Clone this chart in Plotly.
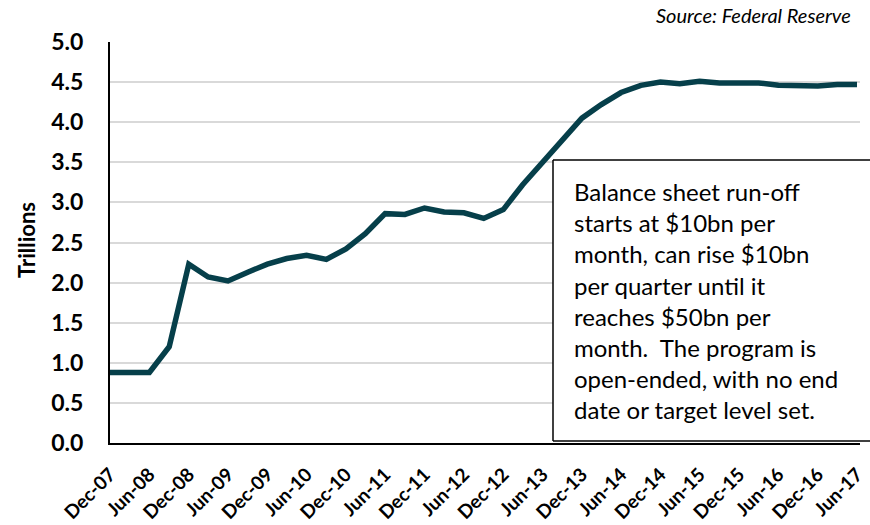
import plotly.graph_objects as go

dates = ["2007-12-01", "2008-03-01", "2008-06-01", "2008-09-01", "2008-12-01",
         "2009-03-01", "2009-06-01", "2009-09-01", "2009-12-01",
         "2010-03-01", "2010-06-01", "2010-09-01", "2010-12-01",
         "2011-03-01", "2011-06-01", "2011-09-01", "2011-12-01",
         "2012-03-01", "2012-06-01", "2012-09-01", "2012-12-01",
         "2013-03-01", "2013-06-01", "2013-09-01", "2013-12-01",
         "2014-03-01", "2014-06-01", "2014-09-01", "2014-12-01",
         "2015-03-01", "2015-06-01", "2015-09-01", "2015-12-01",
         "2016-03-01", "2016-06-01", "2016-09-01", "2016-12-01",
         "2017-03-01", "2017-06-01"]
balance_trillions = [0.88, 0.88, 0.88, 1.20, 2.23,
                     2.07, 2.02, 2.13, 2.23,
                     2.30, 2.34, 2.29, 2.42,
                     2.61, 2.86, 2.85, 2.93,
                     2.88, 2.87, 2.80, 2.91,
                     3.22, 3.50, 3.77, 4.05,
                     4.22, 4.37, 4.46, 4.50,
                     4.48, 4.51, 4.49, 4.49,
                     4.49, 4.46, 4.45, 4.45,
                     4.47, 4.47]
y_ticks = [0.0, 0.5, 1.0, 1.5, 2.0, 2.5, 3.0, 3.5, 4.0, 4.5, 5.0]
y_tick_labels = ["0.0", "0.5", "1.0", "1.5", "2.0", "2.5", "3.0", "3.5", "4.0", "4.5", "5.0"]
note_lines = ["Balance sheet run-off", "starts at $10bn per", "month, can rise $10bn",
              "per quarter until it", "reaches $50bn per", "month.  The program is",
              "open-ended, with no end", "date or target level set."]

FONT = "Lato, 'Open Sans', sans-serif"
LINE_COLOR = "#063f4a"

fig = go.Figure()
fig.add_trace(go.Scatter(
    x=dates, y=balance_trillions, mode="lines",
    line=dict(color=LINE_COLOR, width=5.5), hoverinfo="x+y", showlegend=False,
))

fig.update_layout(
    width=870, height=525,
    margin=dict(l=110, r=10, t=42, b=82),
    paper_bgcolor="white", plot_bgcolor="white",
    font=dict(family=FONT, color="black"),
    showlegend=False,
    xaxis=dict(
        type="date", range=["2007-12-01", "2017-06-15"],
        tick0="2007-12-01", dtick="M6", tickformat="%b-%y",
        tickangle=-45, showgrid=False, zeroline=False,
        showline=True, linecolor="black", linewidth=2,
        ticks="", ticklabelstandoff=11, automargin=False,
        tickfont=dict(family=FONT, size=19, weight="bold", color="black"),
    ),
    yaxis=dict(
        range=[0, 5], tickvals=y_ticks, ticktext=y_tick_labels,
        showgrid=True, gridcolor="#d9d9d9", gridwidth=1.5, zeroline=False,
        showline=True, linecolor="black", linewidth=2,
        ticks="", ticklabelstandoff=20, automargin=False,
        tickfont=dict(family=FONT, size=23, weight="bold", color="black"),
    ),
)

# Y-axis title
fig.add_annotation(
    xref="paper", yref="paper", x=(26 - 110) / 750, y=(443 - 240) / 401,
    text="Trillions", textangle=-90, showarrow=False,
    xanchor="center", yanchor="middle",
    font=dict(family=FONT, size=22, weight="bold", color="black"),
)

# Source
fig.add_annotation(
    xref="paper", yref="paper", x=(853 - 110) / 750, y=(443 - 15) / 401,
    text="<i>Source: Federal Reserve</i>", showarrow=False,
    xanchor="right", yanchor="middle",
    font=dict(family=FONT, size=20, color="black"),
)

# Note box: white fill, border on top, left and bottom (runs off the right edge)
bx0, bx1 = (553 - 110) / 750, (870 - 110) / 750
by0, by1 = (443 - 441) / 401, (443 - 160) / 401
fig.add_shape(
    type="rect", xref="paper", yref="paper",
    x0=bx0, x1=bx1, y0=by0, y1=by1,
    line=dict(width=0, color="rgba(0,0,0,0)"), fillcolor="white", layer="above",
)
for (lx0, ly0, lx1, ly1) in [(bx0, by1, bx1, by1), (bx0, by0, bx0, by1), (bx0, by0, bx1, by0)]:
    fig.add_shape(
        type="line", xref="paper", yref="paper",
        x0=lx0, y0=ly0, x1=lx1, y1=ly1,
        line=dict(color="black", width=1.5), layer="above",
    )
fig.add_annotation(
    xref="paper", yref="paper", x=(572 - 110) / 750, y=(443 - 300) / 401,
    text="<br>".join(note_lines), showarrow=False, align="left",
    xanchor="left", yanchor="middle",
    font=dict(family=FONT, size=24, color="black"),
)

fig.write_html(
    "out.html",
    config={"displayModeBar": False},
    post_script="document.body.style.margin='0';document.body.style.overflow='hidden';",
)
